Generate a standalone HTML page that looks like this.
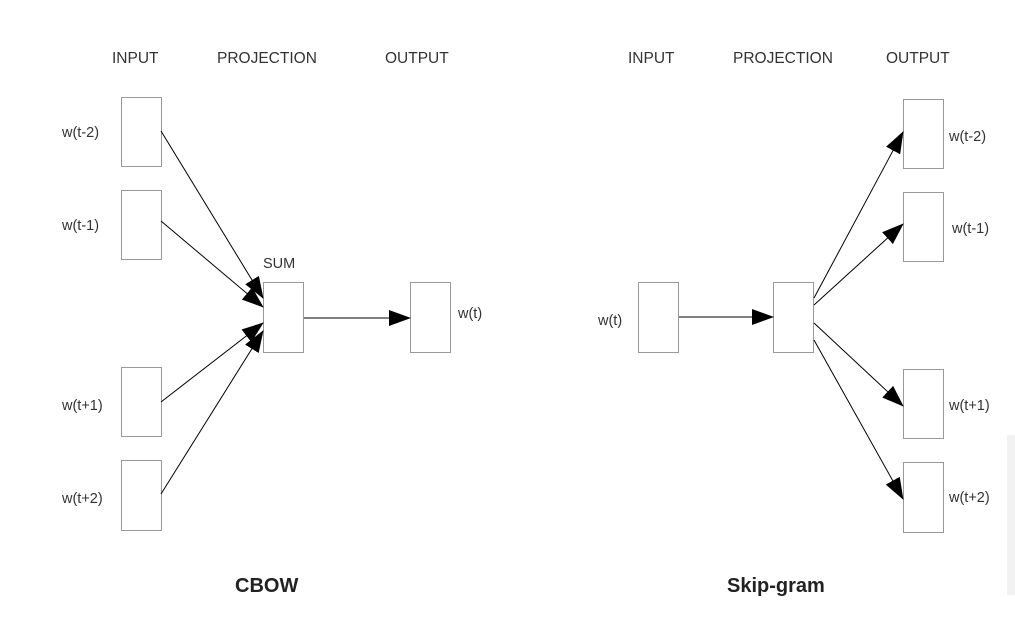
<!DOCTYPE html>
<html><head><style>
html,body{margin:0;padding:0;background:#fff;}
svg{display:block;}
text{font-family:"Liberation Sans",Arial,sans-serif;fill:#333;}
</style></head><body>
<svg width="1015" height="635" viewBox="0 0 1015 635" xmlns="http://www.w3.org/2000/svg">
<defs>
<marker id="a" markerWidth="22" markerHeight="16" refX="21" refY="8" orient="auto" markerUnits="userSpaceOnUse">
<path d="M0,0 L22,8 L0,16 Z" fill="#000"/>
</marker>
</defs>
<rect x="1007" y="435" width="8" height="160" fill="#f2f2f2"/>
<g font-size="15.5">
<text x="112" y="63">INPUT</text>
<text x="217" y="63">PROJECTION</text>
<text x="385" y="63">OUTPUT</text>
<text x="628" y="63">INPUT</text>
<text x="733" y="63">PROJECTION</text>
<text x="886" y="63">OUTPUT</text>
</g>
<g fill="#fff" stroke="#999" stroke-width="1">
<rect x="121.5" y="97.5" width="40" height="69"/>
<rect x="121.5" y="190.5" width="40" height="69"/>
<rect x="121.5" y="367.5" width="40" height="69"/>
<rect x="121.5" y="460.5" width="40" height="70"/>
<rect x="263.5" y="282.5" width="40" height="70"/>
<rect x="410.5" y="282.5" width="40" height="70"/>
<rect x="638.5" y="282.5" width="40" height="70"/>
<rect x="773.5" y="282.5" width="40" height="70"/>
<rect x="903.5" y="99.5" width="40" height="69"/>
<rect x="903.5" y="192.5" width="40" height="69"/>
<rect x="903.5" y="369.5" width="40" height="69"/>
<rect x="903.5" y="462.5" width="40" height="70"/>
</g>
<g stroke="#000" stroke-width="1" marker-end="url(#a)">
<line x1="161" y1="131" x2="263" y2="298"/>
<line x1="161" y1="221" x2="263" y2="307"/>
<line x1="161" y1="402" x2="263" y2="323"/>
<line x1="161" y1="494" x2="263" y2="331"/>
<line x1="304" y1="318" x2="410" y2="318"/>
<line x1="679" y1="317" x2="773" y2="317"/>
<line x1="814" y1="298" x2="903" y2="132"/>
<line x1="814" y1="305" x2="903" y2="224"/>
<line x1="814" y1="323" x2="903" y2="406"/>
<line x1="814" y1="340" x2="903" y2="499"/>
</g>
<g font-size="14.5">
<text x="62" y="137">w(t-2)</text>
<text x="62" y="230">w(t-1)</text>
<text x="62" y="410">w(t+1)</text>
<text x="62" y="503">w(t+2)</text>
<text x="263" y="268">SUM</text>
<text x="458" y="318">w(t)</text>
<text x="598" y="325">w(t)</text>
<text x="949" y="141">w(t-2)</text>
<text x="952" y="233">w(t-1)</text>
<text x="949" y="410">w(t+1)</text>
<text x="949" y="502">w(t+2)</text>
</g>
<g font-size="20" font-weight="bold">
<text x="235" y="592" style="fill:#222">CBOW</text>
<text x="727" y="592" style="fill:#222">Skip-gram</text>
</g>
</svg>
</body></html>
